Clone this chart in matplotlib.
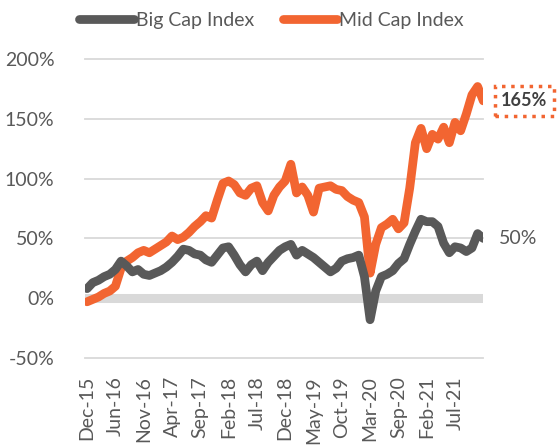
import numpy as np
import matplotlib
matplotlib.use("Agg")
from matplotlib import pyplot as plt

# time axis in "label intervals" (one interval between consecutive tick labels)
t = np.arange(0, 14.01, 0.2)

big_cap = [8, 13, 15, 18, 20, 24, 31, 27, 22, 24,
           20, 19, 21, 23, 26, 30, 35, 41, 40, 37,
           36, 32, 30, 36, 42, 43, 36, 28, 22, 28,
           31, 23, 30, 35, 40, 43, 45, 36, 40, 37,
           34, 30, 26, 22, 25, 31, 33, 34, 36, 18,
           -18, 6, 18, 20, 23, 29, 33, 45, 56, 66,
           64, 64, 60, 46, 38, 43, 42, 39, 42, 54,
           50]
mid_cap = [-3, -1, 1, 4, 6, 10, 25, 31, 34, 38,
           40, 38, 41, 44, 47, 52, 49, 51, 55, 60,
           64, 69, 67, 82, 96, 98, 95, 88, 86, 92,
           94, 80, 73, 86, 93, 98, 112, 88, 93, 86,
           72, 92, 93, 94, 91, 90, 85, 82, 80, 68,
           21, 45, 59, 62, 66, 58, 63, 92, 130, 142,
           125, 137, 133, 143, 130, 147, 140, 154, 170, 177,
           165]

tick_labels = ["Dec-15", "Jun-16", "Nov-16", "Apr-17", "Sep-17", "Feb-18", "Jul-18",
               "Dec-18", "May-19", "Oct-19", "Mar-20", "Sep-20", "Feb-21", "Jul-21"]
yticks = [-50, 0, 50, 100, 150, 200]

gray = "#595959"
orange = "#F26531"
grid_c = "#D9D9D9"

plt.rcParams['font.family'] = ['Lato', 'DejaVu Sans']

fig = plt.figure(figsize=(5.6, 4.45), dpi=100)
ax = fig.add_axes([0.152, 0.1955, 0.711, 0.6719])

for y in yticks:
    if y == 0:
        ax.axhline(y, color=grid_c, lw=6.5, zorder=1)
    else:
        ax.axhline(y, color=grid_c, lw=1.3, zorder=1, clip_on=False)

l1, = ax.plot(t, big_cap, color=gray, lw=6.3, solid_capstyle='round',
              solid_joinstyle='round', zorder=3, label="Big Cap Index")
l2, = ax.plot(t, mid_cap, color=orange, lw=6.3, solid_capstyle='round',
              solid_joinstyle='round', zorder=2, label="Mid Cap Index")

ax.set_xlim(-0.07, 14.0)
ax.set_ylim(-50, 200)
ax.set_yticks(yticks)
ax.set_yticklabels([f"{v}%" for v in yticks])
ax.set_xticks(range(len(tick_labels)))
ax.set_xticklabels(tick_labels, rotation=90)
ax.tick_params(axis='both', length=0, colors=gray, labelsize=14)
ax.tick_params(axis='y', pad=22)
ax.tick_params(axis='x', pad=13)
for s in ax.spines.values():
    s.set_visible(False)

ax.text(1.04, big_cap[-1], "50%", transform=ax.get_yaxis_transform(),
        ha='left', va='center', fontsize=14, color=gray)
ax.text(1.045, mid_cap[-1], "165%", transform=ax.get_yaxis_transform(),
        ha='left', va='center', fontsize=13, color="#404040", fontweight='bold',
        bbox=dict(boxstyle='square,pad=0.35', fc='white', ec=orange, lw=2.5, ls=':'))

fig.legend(handles=[l1, l2], loc='center', bbox_to_anchor=(0.485, 0.955), ncol=2,
           frameon=False, fontsize=14, labelcolor=gray, handlelength=2.8,
           handletextpad=0.1, columnspacing=1.5)

fig.savefig("out.png", dpi=100)
